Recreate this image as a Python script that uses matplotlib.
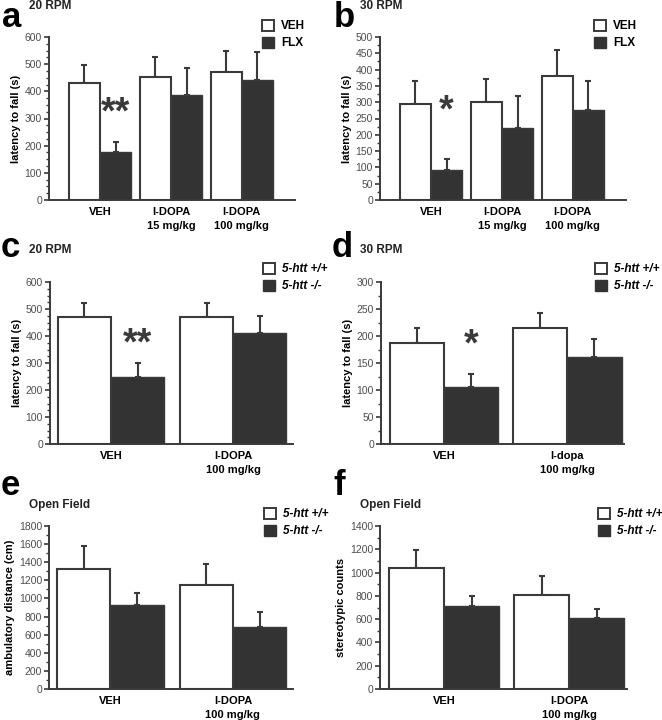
import matplotlib
matplotlib.use("Agg")
import matplotlib.pyplot as plt
from matplotlib.patches import Patch
from matplotlib.ticker import MultipleLocator
import numpy as np

plt.rcParams["font.family"] = ["Liberation Sans", "DejaVu Sans"]

# ---- data ----
GROUPS_3 = ["VEH", "l-DOPA\n15 mg/kg", "l-DOPA\n100 mg/kg"]
GROUPS_2 = ["VEH", "l-DOPA\n100 mg/kg"]
GROUPS_2_LOWER = ["VEH", "l-dopa\n100 mg/kg"]

LEG_DRUG = ["VEH", "FLX"]
LEG_GENO = ["5-htt +/+", "5-htt -/-"]

# panel a: 20 RPM, VEH vs FLX
a_veh = [430, 452, 472]
a_veh_err = [67, 73, 78]
a_flx = [176, 386, 440]
a_flx_err = [36, 101, 105]

# panel b: 30 RPM, VEH vs FLX
b_veh = [293, 300, 380]
b_veh_err = [72, 70, 80]
b_flx = [93, 220, 275]
b_flx_err = [32, 98, 90]

# panel c: 20 RPM, genotype
c_wt = [472, 472]
c_wt_err = [50, 50]
c_ko = [248, 410]
c_ko_err = [52, 65]

# panel d: 30 RPM, genotype
d_wt = [187, 214]
d_wt_err = [27, 28]
d_ko = [105, 161]
d_ko_err = [25, 34]

# panel e: open field, ambulatory distance
e_wt = [1325, 1145]
e_wt_err = [250, 240]
e_ko = [930, 680]
e_ko_err = [135, 175]

# panel f: open field, stereotypic counts
f_wt = [1035, 810]
f_wt_err = [160, 160]
f_ko = [710, 610]
f_ko_err = [85, 75]

W, H = 662, 720
DARK = "#333333"
EDGE = "#3a3a3a"
TICKC = "#4d4d4d"


def px(x0, y0, x1, y1):
    """pixel box (left, top, right, bottom) -> figure axes rect"""
    return [x0 / W, 1 - y1 / H, (x1 - x0) / W, (y1 - y0) / H]


def draw_panel(ax, labels, wt, wt_err, ko, ko_err, width, xlim, ymax, major, minor, ylabel):
    x = np.arange(len(labels))
    ax.bar(x - width / 2, wt, width, color="white", edgecolor=EDGE, linewidth=1.5, zorder=2)
    ax.bar(x + width / 2, ko, width, color=DARK, edgecolor=EDGE, linewidth=1.0, zorder=2)
    ax.errorbar(x - width / 2, wt, yerr=[np.zeros(len(wt)), wt_err], fmt="none",
                ecolor=EDGE, elinewidth=1.5, capsize=2.5, capthick=1.5, zorder=1)
    ax.errorbar(x + width / 2, ko, yerr=[np.zeros(len(ko)), ko_err], fmt="none",
                ecolor=EDGE, elinewidth=1.5, capsize=2.5, capthick=1.5, zorder=1)
    ax.set_xlim(*xlim)
    ax.set_ylim(0, ymax)
    ax.yaxis.set_major_locator(MultipleLocator(major))
    ax.yaxis.set_minor_locator(MultipleLocator(minor))
    ax.set_xticks(x)
    ax.set_xticklabels(labels, fontweight="bold", fontsize=8, linespacing=1.45)
    ax.tick_params(axis="x", length=0, pad=5)
    ax.tick_params(axis="y", which="major", length=3.5, width=1.2, color=EDGE,
                   labelsize=7.5, labelcolor=TICKC, pad=1.5)
    ax.tick_params(axis="y", which="minor", length=2, width=1.0, color=EDGE)
    for s in ("top", "right"):
        ax.spines[s].set_visible(False)
    for s in ("left", "bottom"):
        ax.spines[s].set_color(EDGE)
        ax.spines[s].set_linewidth(1.4)
    ax.set_ylabel(ylabel, fontweight="bold", fontsize=8, labelpad=3)


def add_legend(fig, ax, names, x0, y0, italic):
    handles = [Patch(facecolor="white", edgecolor=EDGE, linewidth=1.4),
               Patch(facecolor=DARK, edgecolor=DARK, linewidth=1.0)]
    ax.legend(handles, names, loc="upper left", bbox_to_anchor=(x0 / W, 1 - y0 / H),
              bbox_transform=fig.transFigure, frameon=False, borderpad=0,
              handlelength=1.0, handleheight=1.0, handletextpad=0.6,
              labelspacing=0.4, borderaxespad=0,
              prop={"weight": "bold", "size": 8.5,
                    "style": "italic" if italic else "normal"})


def star(ax, x, y, s):
    ax.text(x, y, s, ha="center", va="center", fontsize=27, fontweight="bold", color=EDGE)


fig = plt.figure(figsize=(W / 100, H / 100), dpi=100)

# panel a
ax_a = fig.add_axes(px(49, 37, 295, 200))
draw_panel(ax_a, GROUPS_3, a_veh, a_veh_err, a_flx, a_flx_err, 0.44, (-0.72, 2.75),
           600, 100, 25, "latency to fall (s)")
star(ax_a, 0.22, 320, "**")
add_legend(fig, ax_a, LEG_DRUG, 262, 20, False)

# panel b
ax_b = fig.add_axes(px(380, 37, 626, 200))
draw_panel(ax_b, GROUPS_3, b_veh, b_veh_err, b_flx, b_flx_err, 0.44, (-0.72, 2.75),
           500, 50, 25, "latency to fall (s)")
star(ax_b, 0.22, 270, "*")
add_legend(fig, ax_b, LEG_DRUG, 594, 20, False)

# panel c
ax_c = fig.add_axes(px(50, 282, 293, 444))
draw_panel(ax_c, GROUPS_2, c_wt, c_wt_err, c_ko, c_ko_err, 0.435, (-0.5, 1.49),
           600, 100, 25, "latency to fall (s)")
star(ax_c, 0.2175, 367, "**")
add_legend(fig, ax_c, LEG_GENO, 263, 263, True)

# panel d
ax_d = fig.add_axes(px(381, 282, 624, 444))
draw_panel(ax_d, GROUPS_2_LOWER, d_wt, d_wt_err, d_ko, d_ko_err, 0.44, (-0.51, 1.46),
           300, 50, 25, "latency to fall (s)")
star(ax_d, 0.22, 183, "*")
add_legend(fig, ax_d, LEG_GENO, 595, 263, True)

# panel e
ax_e = fig.add_axes(px(49, 526, 293, 689))
draw_panel(ax_e, GROUPS_2, e_wt, e_wt_err, e_ko, e_ko_err, 0.435, (-0.5, 1.49),
           1800, 200, 100, "ambulatory distance (cm)")
add_legend(fig, ax_e, LEG_GENO, 264, 508, True)

# panel f
ax_f = fig.add_axes(px(380, 526, 627, 689))
draw_panel(ax_f, GROUPS_2, f_wt, f_wt_err, f_ko, f_ko_err, 0.44, (-0.51, 1.46),
           1400, 200, 100, "stereotypic counts")
add_legend(fig, ax_f, LEG_GENO, 598, 508, True)

# panel letters and titles
letters = [("a", 2, 27, "20 RPM", 29, 9), ("b", 334, 27, "30 RPM", 360, 9),
           ("c", 1, 257, "20 RPM", 29, 253), ("d", 332, 257, "30 RPM", 360, 253),
           ("e", 1, 495, "Open Field", 29, 508), ("f", 333, 495, "Open Field", 360, 508)]
for let, lx, ly, title, tx, ty in letters:
    fig.text(lx / W, 1 - ly / H, let, fontsize=25, fontweight="bold", ha="left", va="baseline")
    fig.text(tx / W, 1 - ty / H, title, fontsize=8.5, fontweight="bold", ha="left", va="baseline",
             color="#222222")

fig.savefig("out.png", dpi=100)
